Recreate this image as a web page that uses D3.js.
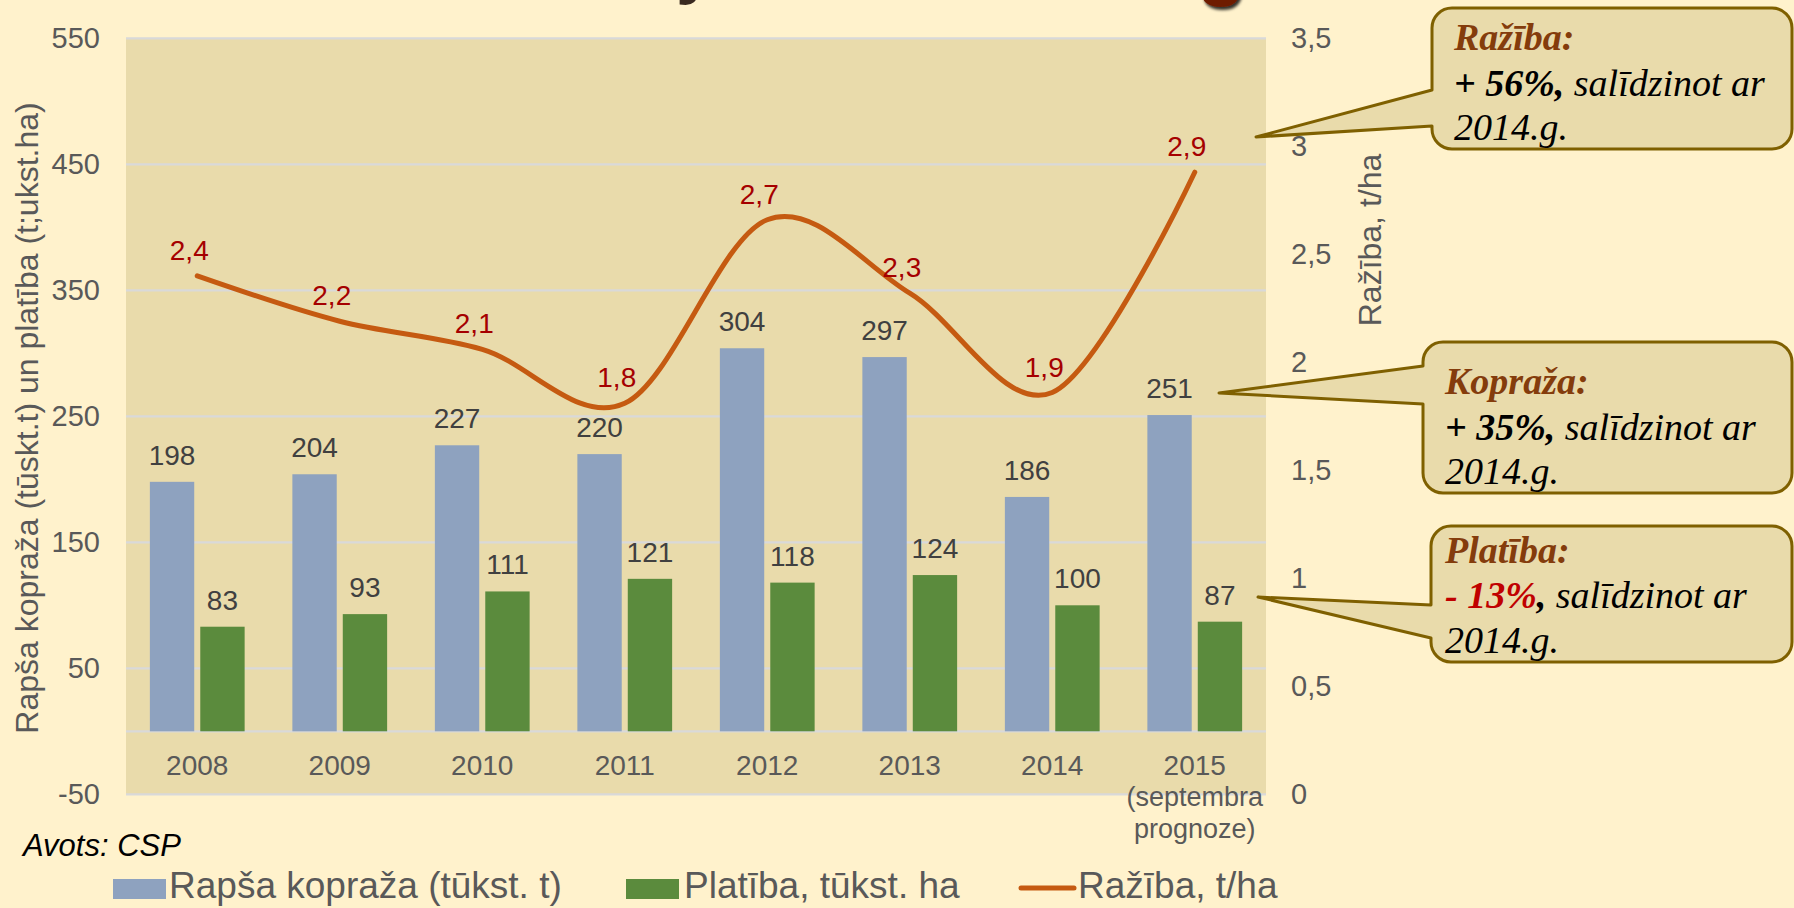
<!DOCTYPE html>
<html>
<head>
<meta charset="utf-8">
<script src="https://cdn.jsdelivr.net/npm/d3@7"></script>
<style>
  body { margin: 0; background: #FFF2CC; }
  svg { display: block; font-family: "Liberation Sans", Arial, sans-serif; }
</style>
</head>
<body>
<svg id="chart" width="1794" height="908"></svg>
<script>
// data
const years = ["2008", "2009", "2010", "2011", "2012", "2013", "2014", "2015"];
const yearLabels = [["2008"], ["2009"], ["2010"], ["2011"], ["2012"], ["2013"], ["2014"], ["2015", "(septembra", "prognoze)"]];
const kopraza = [198, 204, 227, 220, 304, 297, 186, 251];
const platiba = [83, 93, 111, 121, 118, 124, 100, 87];
const raziba = [2.40, 2.19, 2.06, 1.81, 2.66, 2.32, 1.86, 2.88];
const leftTicks = [-50, 50, 150, 250, 350, 450, 550];
const rightTicks = [0, 0.5, 1, 1.5, 2, 2.5, 3, 3.5];

const svg = d3.select("#chart");
const plot = { left: 126, right: 1266, top: 38.3, bottom: 794.3 };

const bgColor = "#E9DBAB";
const blue = "#8EA2BF", green = "#5B8B3D", orange = "#C55A11";

const x0 = d3.scaleBand().domain(years).range([plot.left, plot.right])
  .paddingInner(0.335).paddingOuter(0.1675);
const x1 = d3.scaleBand().domain(["kopraza", "platiba"]).range([0, x0.bandwidth()]).paddingInner(0.12);
const yL = d3.scaleLinear().domain([-50, 550]).range([plot.bottom, plot.top]);
const yR = d3.scaleLinear().domain([0, 3.5]).range([plot.bottom, plot.top]);
const comma = d => String(d).replace(".", ",");

// cut-off title pieces at the very top
const shadow = svg.append("defs").append("filter").attr("id", "sh");
shadow.append("feDropShadow").attr("dx", 2).attr("dy", 3).attr("stdDeviation", 1.5).attr("flood-color", "#000").attr("flood-opacity", 0.8);
svg.append("text").attr("x", 676).attr("y", -10).attr("font-size", 70).attr("font-weight", "bold")
  .attr("fill", "#3a2a20").text("y");
svg.append("text").attr("x", 1197).attr("y", -10).attr("font-size", 80).attr("font-weight", "bold")
  .attr("fill", "#6E1C05").attr("filter", "url(#sh)").text("g");

// plot background
svg.append("rect").attr("x", plot.left).attr("y", plot.top)
  .attr("width", plot.right - plot.left).attr("height", plot.bottom - plot.top)
  .attr("fill", bgColor);

// gridlines
svg.append("g").selectAll("line").data(leftTicks.concat([0])).join("line")
  .attr("x1", plot.left).attr("x2", plot.right)
  .attr("y1", d => yL(d)).attr("y2", d => yL(d))
  .attr("stroke", "#D9D9D9").attr("stroke-width", 2.2);

// left axis
const axL = svg.append("g").attr("transform", `translate(${plot.left},0)`)
  .call(d3.axisLeft(yL).tickValues(leftTicks).tickSize(0).tickPadding(26).tickFormat(d => String(d)));
axL.select(".domain").remove();
axL.selectAll("text").attr("font-size", 29).attr("fill", "#595959").attr("font-family", null);

// right axis
const axR = svg.append("g").attr("transform", `translate(${plot.right},0)`)
  .call(d3.axisRight(yR).tickValues(rightTicks).tickSize(0).tickPadding(25).tickFormat(comma));
axR.select(".domain").remove();
axR.selectAll("text").attr("font-size", 29).attr("fill", "#595959").attr("font-family", null);

// axis titles
svg.append("text").attr("transform", "translate(27,418) rotate(-90)")
  .attr("text-anchor", "middle").attr("dominant-baseline", "central")
  .attr("font-size", 32).attr("fill", "#595959")
  .text("Rapša kopraža (tūskt.t) un platība (t;ukst.ha)");
svg.append("text").attr("transform", "translate(1370,240) rotate(-90)")
  .attr("text-anchor", "middle").attr("dominant-baseline", "central")
  .attr("font-size", 32).attr("fill", "#595959")
  .text("Ražība, t/ha");

// category labels
const cat = svg.append("g").selectAll("text").data(years).join("text")
  .attr("x", d => x0(d) + x0.bandwidth() / 2)
  .attr("y", 775)
  .attr("text-anchor", "middle").attr("font-size", 28).attr("fill", "#595959");
cat.selectAll("tspan").data((d, i) => yearLabels[i]).join("tspan")
  .attr("x", function () { return this.parentNode.getAttribute("x"); })
  .attr("dy", (d, i) => i === 0 ? 0 : (i === 1 ? 31 : 32))
  .attr("font-size", (d, i) => i === 0 ? 28 : 27)
  .text(d => d);

// bars
const groups = svg.append("g").selectAll("g").data(years).join("g")
  .attr("transform", d => `translate(${x0(d)},0)`);
const series = [
  { key: "kopraza", values: kopraza, color: blue },
  { key: "platiba", values: platiba, color: green }
];
series.forEach(s => {
  groups.append("rect")
    .attr("x", x1(s.key))
    .attr("width", x1.bandwidth())
    .attr("y", (d, i) => yL(s.values[i]))
    .attr("height", (d, i) => yL(0) - yL(s.values[i]))
    .attr("fill", s.color);
  groups.append("text")
    .attr("x", x1(s.key) + x1.bandwidth() / 2)
    .attr("y", (d, i) => yL(s.values[i]) - 17)
    .attr("text-anchor", "middle").attr("font-size", 28).attr("fill", "#404040")
    .text((d, i) => s.values[i]);
});

// line
const px = i => x0(years[i]) + x0.bandwidth() / 2;
const line = d3.line().x((d, i) => px(i)).y(d => yR(d)).curve(d3.curveCardinal.tension(0));
svg.append("path").datum(raziba).attr("d", line)
  .attr("fill", "none").attr("stroke", orange).attr("stroke-width", 5).attr("stroke-linecap", "round");
svg.append("g").selectAll("text").data(raziba).join("text")
  .attr("x", (d, i) => px(i) - 8)
  .attr("y", d => yR(d) - 16)
  .attr("text-anchor", "middle").attr("font-size", 28).attr("fill", "#A50000")
  .text(d => comma(d3.format(".1f")(d)));

// source note
svg.append("text").attr("x", 23).attr("y", 856).attr("font-size", 31)
  .attr("font-style", "italic").attr("fill", "#000").text("Avots: CSP");

// legend
const legend = svg.append("g");
legend.append("rect").attr("x", 113).attr("y", 879).attr("width", 53).attr("height", 20).attr("fill", blue);
legend.append("text").attr("x", 169).attr("y", 898).attr("font-size", 37).attr("fill", "#595959").text("Rapša kopraža (tūkst. t)");
legend.append("rect").attr("x", 626).attr("y", 879).attr("width", 53).attr("height", 20).attr("fill", green);
legend.append("text").attr("x", 684).attr("y", 898).attr("font-size", 37).attr("fill", "#595959").text("Platība, tūkst. ha");
legend.append("line").attr("x1", 1021).attr("x2", 1074).attr("y1", 888).attr("y2", 888)
  .attr("stroke", orange).attr("stroke-width", 5).attr("stroke-linecap", "round");
legend.append("text").attr("x", 1078).attr("y", 898).attr("font-size", 37).attr("fill", "#595959").text("Ražība, t/ha");

// callouts
const callouts = [
  { box: [1432, 8, 1792, 149], tail: [90, 126], tip: [1256, 137], tx: 1454, ty: [50, 96, 140],
    head: "Ražība:", parts: [["+ 56%,", "#000", true], [" salīdzinot ar", "#000", false]] },
  { box: [1423, 342, 1792, 493], tail: [366, 404], tip: [1219, 393], tx: 1445, ty: [394, 440, 484],
    head: "Kopraža:", parts: [["+ 35%,", "#000", true], [" salīdzinot ar", "#000", false]] },
  { box: [1431, 526, 1792, 662], tail: [605, 638], tip: [1258, 597], tx: 1445, ty: [563, 608, 653],
    head: "Platība:", parts: [["- 13%", "#C00000", true], [",", "#000", true], [" salīdzinot ar", "#000", false]] }
];

function calloutPath(c) {
  const [bx0, by0, bx1, by1] = c.box, r = 20;
  const p = d3.path();
  p.moveTo(bx0 + r, by0);
  p.lineTo(bx1 - r, by0);
  p.arcTo(bx1, by0, bx1, by0 + r, r);
  p.lineTo(bx1, by1 - r);
  p.arcTo(bx1, by1, bx1 - r, by1, r);
  p.lineTo(bx0 + r, by1);
  p.arcTo(bx0, by1, bx0, by1 - r, r);
  p.lineTo(bx0, c.tail[1]);
  p.lineTo(c.tip[0], c.tip[1]);
  p.lineTo(bx0, c.tail[0]);
  p.lineTo(bx0, by0 + r);
  p.arcTo(bx0, by0, bx0 + r, by0, r);
  p.closePath();
  return p.toString();
}

const cg = svg.append("g").attr("font-family", '"Liberation Serif", "Times New Roman", serif')
  .attr("font-style", "italic").attr("font-size", 38);
callouts.forEach(c => {
  cg.append("path").attr("d", calloutPath(c))
    .attr("fill", bgColor).attr("stroke", "#7F6000").attr("stroke-width", 3).attr("stroke-linejoin", "round");
  cg.append("text").attr("x", c.tx).attr("y", c.ty[0]).attr("font-weight", "bold").attr("fill", "#843C0C").text(c.head);
  const t2 = cg.append("text").attr("x", c.tx).attr("y", c.ty[1]);
  c.parts.forEach(pt => {
    t2.append("tspan").attr("fill", pt[1]).attr("font-weight", pt[2] ? "bold" : "normal").text(pt[0]);
  });
  cg.append("text").attr("x", c.tx).attr("y", c.ty[2]).attr("fill", "#000").text("2014.g.");
});
</script>
</body>
</html>
